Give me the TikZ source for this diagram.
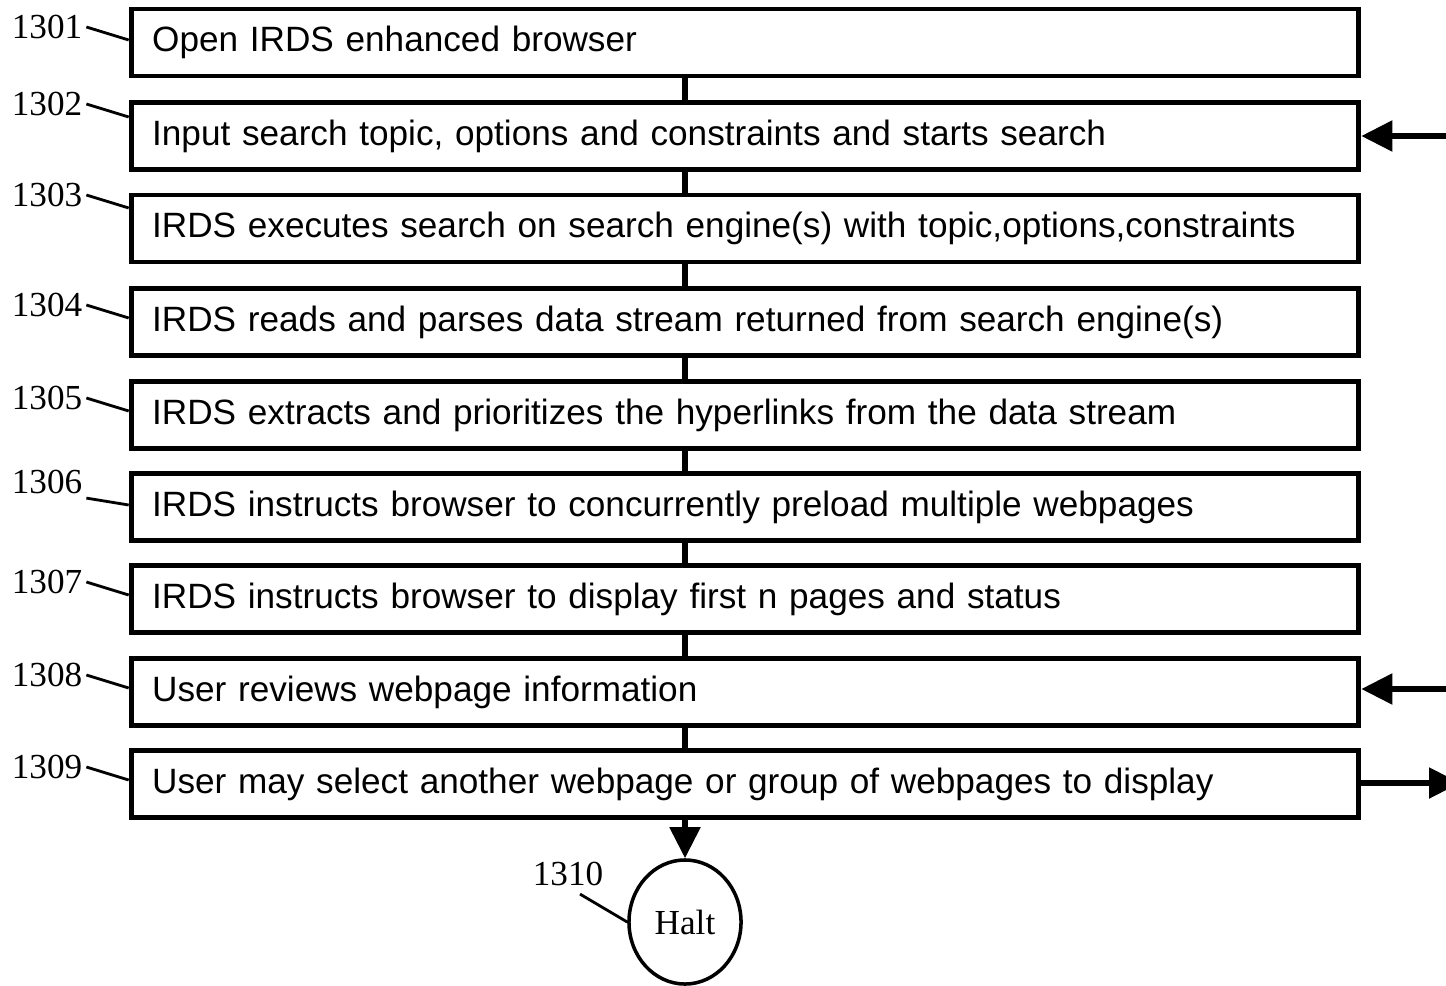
\documentclass[tikz,border=0pt]{standalone}
\usepackage{fontspec}
\setmainfont{Liberation Serif}
\setsansfont{Liberation Sans}
\usetikzlibrary{arrows.meta,shapes.geometric,calc}

\begin{document}
\begin{tikzpicture}[x=0.01cm, y=-0.01cm,
  stepbox/.style={rectangle, draw, line width=1.4pt, minimum height=0.67cm,
    text width=11.85cm, inner xsep=0.21cm, align=left,
    font=\sffamily\fontsize{10}{12}\selectfont},
  tag/.style={inner sep=1pt, font=\fontsize{10}{12}\selectfont},
  lead/.style={line width=0.8pt},
  flow/.style={line width=1.5pt},
  head/.style={-{Triangle[length=0.31cm, width=0.3cm]}}]
  \useasboundingbox (0,0) rectangle (1446,985);
  % process steps
  \node[stepbox] (b1) at (745,42.5) {Open IRDS enhanced browser};
  \node[stepbox] (b2) at (745,136) {Input search topic, options and constraints and starts search};
  \node[stepbox] (b3) at (745,228.5) {IRDS executes search on search engine(s) with topic,options,constraints};
  \node[stepbox] (b4) at (745,322) {IRDS reads and parses data stream returned from search engine(s)};
  \node[stepbox] (b5) at (745,415) {IRDS extracts and prioritizes the hyperlinks from the data stream};
  \node[stepbox] (b6) at (745,507) {IRDS instructs browser to concurrently preload multiple webpages};
  \node[stepbox] (b7) at (745,599) {IRDS instructs browser to display first n pages and status};
  \node[stepbox] (b8) at (745,692) {User reviews webpage information};
  \node[stepbox] (b9) at (745,784) {User may select another webpage or group of webpages to display};
  \node[ellipse, draw, line width=1pt, inner sep=0pt, minimum width=1.12cm, minimum height=1.24cm,
    font=\fontsize{10}{12}\selectfont] (halt) at (685,922) {Halt};
  % reference numerals
  \node[tag] (l1) at (47,27) {1301};
  \node[tag] (l2) at (47,104) {1302};
  \node[tag] (l3) at (47,195) {1303};
  \node[tag] (l4) at (47,305) {1304};
  \node[tag] (l5) at (47,398) {1305};
  \node[tag] (l6) at (47,482) {1306};
  \node[tag] (l7) at (47,582) {1307};
  \node[tag] (l8) at (47,675) {1308};
  \node[tag] (l9) at (47,767) {1309};
  \node[tag] (l10) at (568,874) {1310};
  \draw[lead] (l1.east) -- ($(l1.east -| b1.west)+(0,13)$);
  \draw[lead] (l2.east) -- ($(l2.east -| b2.west)+(0,13)$);
  \draw[lead] (l3.east) -- ($(l3.east -| b3.west)+(0,13)$);
  \draw[lead] (l4.east) -- ($(l4.east -| b4.west)+(0,13)$);
  \draw[lead] (l5.east) -- ($(l5.east -| b5.west)+(0,13)$);
  \draw[lead] (l6.south east) -- ($(l6.east -| b6.west)+(0,23)$);
  \draw[lead] (l7.east) -- ($(l7.east -| b7.west)+(0,13)$);
  \draw[lead] (l8.east) -- ($(l8.east -| b8.west)+(0,13)$);
  \draw[lead] (l9.east) -- ($(l9.east -| b9.west)+(0,13)$);
  \draw[lead] ($(l10.south)+(12,4)$) -- (halt.west);
  % flow lines
  \draw[flow] (b1.south -| halt) -- (b2.north -| halt);
  \draw[flow] (b2.south -| halt) -- (b3.north -| halt);
  \draw[flow] (b3.south -| halt) -- (b4.north -| halt);
  \draw[flow] (b4.south -| halt) -- (b5.north -| halt);
  \draw[flow] (b5.south -| halt) -- (b6.north -| halt);
  \draw[flow] (b6.south -| halt) -- (b7.north -| halt);
  \draw[flow] (b7.south -| halt) -- (b8.north -| halt);
  \draw[flow] (b8.south -| halt) -- (b9.north -| halt);
  \draw[flow, head] (b9.south -| halt) -- (halt.north);
  % loop entries and exit
  \coordinate (in2) at (1446,136);
  \coordinate (in8) at (1446,689);
  \coordinate (out9) at (1460,783);
  \draw[flow, head] (in2) -- (b2.east);
  \draw[flow, head] (in8) -- (in8 -| b8.east);
  \draw[flow, head] (out9 -| b9.east) -- (out9);
\end{tikzpicture}
\end{document}
